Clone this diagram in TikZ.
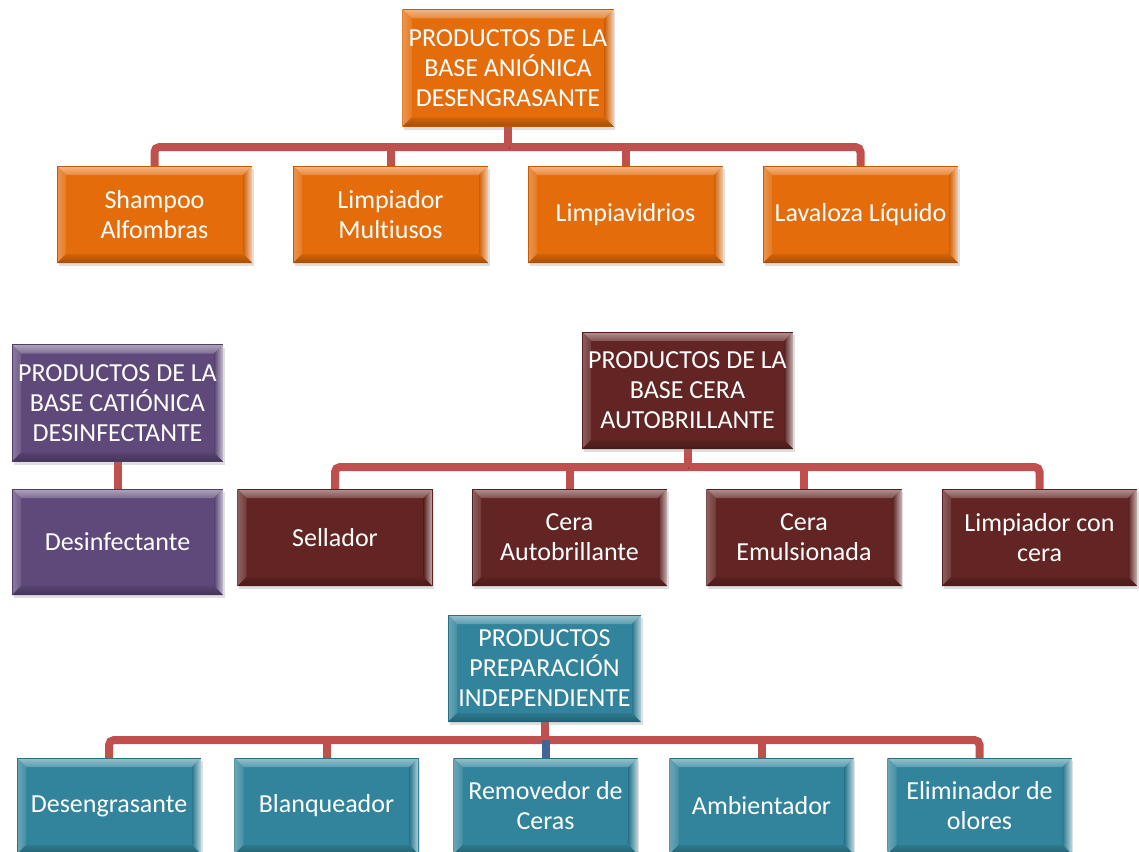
\documentclass[tikz,border=0pt]{standalone}
\usepackage{fontspec}
\setmainfont{Carlito}[Ligatures=NoCommon]
\usetikzlibrary{calc,shadows,backgrounds}

\definecolor{orangeB}{HTML}{E46C0A}
\definecolor{purpleB}{HTML}{5F497A}
\definecolor{maroonB}{HTML}{632523}
\definecolor{tealB}{HTML}{31849B}
\definecolor{connred}{HTML}{C0504D}
\definecolor{connblue}{HTML}{3F6696}

\tikzset{
  box/.style={rectangle, inner sep=0pt, fill=#1, text=white, align=center,
    font=\fontsize{26}{30}\selectfont,
    drop shadow={shadow xshift=1.5pt, shadow yshift=-3pt, opacity=.25},
    path picture={
      \path (path picture bounding box.north west) coordinate (a1)
            (path picture bounding box.north east) coordinate (a2)
            (path picture bounding box.south east) coordinate (a3)
            (path picture bounding box.south west) coordinate (a4);
      \path ($(a1)+(9pt,-9pt)$) coordinate (b1)
            ($(a2)+(-9pt,-9pt)$) coordinate (b2)
            ($(a3)+(-9pt,9pt)$) coordinate (b3)
            ($(a4)+(9pt,9pt)$) coordinate (b4);
      % bevelled rim: lit from the top left, glossy right edge
      \shade[top color=#1!50!white, bottom color=#1!80!white]
        (a1) -- (a2) -- (b2) -- (b1) -- cycle;
      \shade[left color=#1!72!white, right color=#1!90!white]
        (a1) -- (b1) -- (b4) -- (a4) -- cycle;
      \shade[left color=#1!90!black, right color=#1!35!white]
        (a2) -- (a3) -- (b3) -- (b2) -- cycle;
      \shade[top color=#1!92!black, bottom color=#1!72!black]
        (a4) -- (b4) -- (b3) -- (a3) -- cycle;
      \draw[#1!85!black, line width=1pt] (a4) -- (a1) -- (a2);
    }},
  lead/.style={box=#1, minimum width=211pt, minimum height=117pt},
  leaf/.style={box=#1, minimum width=195pt, minimum height=97pt},
  tleaf/.style={box=tealB, minimum width=184pt, minimum height=96pt},
  conn/.style={draw=connred, line width=8pt, rounded corners=5pt,
    preaction={draw=black, opacity=.25, transform canvas={xshift=1pt,yshift=-2pt}}},
}

\begin{document}
\begin{tikzpicture}[x=1pt,y=-1pt]
\useasboundingbox (0,0) rectangle (1139,851);

% anionic base
\node[lead=orangeB] (anion) at (508,68) {PRODUCTOS DE LA\\BASE ANIÓNICA\\DESENGRASANTE};
\node[leaf=orangeB] (shampoo) at (154.5,214.5) {Shampoo\\Alfombras};
\node[leaf=orangeB] (multi) at (390.5,214.5) {Limpiador\\Multiusos};
\node[leaf=orangeB] (vidrios) at (625.5,214.5) {Limpiavidrios};
\node[leaf=orangeB] (lavaloza) at (860.5,214.5) {Lavaloza Líquido};

% cationic base
\node[lead=purpleB] (cation) at (117.5,403) {PRODUCTOS DE LA\\BASE CATIÓNICA\\DESINFECTANTE};
\node[box=purpleB, minimum width=211pt, minimum height=106pt] (desinf) at (117.5,542) {Desinfectante};

% wax base
\node[lead=maroonB] (cera) at (687.5,390.5) {PRODUCTOS DE LA\\BASE CERA\\AUTOBRILLANTE};
\node[leaf=maroonB] (sellador) at (335,537.5) {Sellador};
\node[leaf=maroonB] (ceraauto) at (569.5,537.5) {Cera\\Autobrillante};
\node[leaf=maroonB] (ceraemul) at (804,537.5) {Cera\\Emulsionada};
\node[leaf=maroonB] (limpcera) at (1039.5,537.5) {Limpiador con\\cera};

% independent preparation
\node[box=tealB, minimum width=193pt, minimum height=107pt] (indep) at (544.5,668.5) {PRODUCTOS\\PREPARACIÓN\\INDEPENDIENTE};
\node[tleaf] (desen) at (109,806) {Desengrasante};
\node[tleaf] (blanq) at (326.5,806) {Blanqueador};
\node[tleaf] (remov) at (545.5,806) {Removedor de\\Ceras};
\node[tleaf] (ambien) at (761.5,806) {Ambientador};
\node[tleaf] (elim) at (979.5,806) {Eliminador de\\olores};

\coordinate (busA) at (508,147);
\coordinate (busC) at (687.5,467);
\coordinate (busT) at (544.5,740);

\begin{pgfonlayer}{background}
  % anionic tree
  \draw[conn] (shampoo.north) |- (busA) -| (lavaloza.north);
  \draw[conn] (anion.south) -- (busA);
  \draw[conn] (multi.north) -- (multi.north |- busA);
  \draw[conn] (vidrios.north) -- (vidrios.north |- busA);
  % cationic link
  \draw[conn] (cation.south) -- (desinf.north);
  % wax tree
  \draw[conn] (sellador.north) |- (busC) -| (limpcera.north);
  \draw[conn] (cera.south) -- (busC);
  \draw[conn] (ceraauto.north) -- (ceraauto.north |- busC);
  \draw[conn] (ceraemul.north) -- (ceraemul.north |- busC);
  % independent tree
  \draw[conn] (desen.north) |- (busT) -| (elim.north);
  \draw[conn] (indep.south) -- (busT);
  \draw[conn] (blanq.north) -- (blanq.north |- busT);
  \draw[conn] (ambien.north) -- (ambien.north |- busT);
  \draw[conn, draw=connblue] (remov.north) -- (remov.north |- busT);
\end{pgfonlayer}
\end{tikzpicture}
\end{document}
